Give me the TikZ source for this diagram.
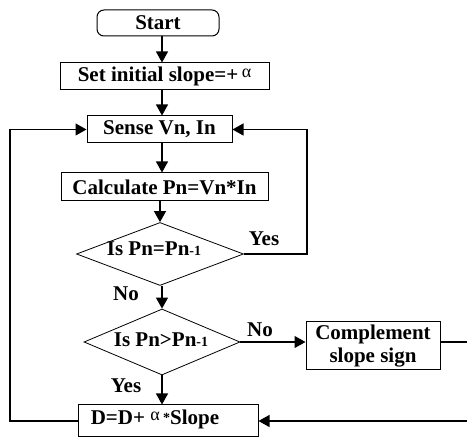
\documentclass[tikz,border=0pt]{standalone}
\usepackage{fontspec}
\setmainfont{Liberation Serif}
\usetikzlibrary{arrows.meta,shapes.geometric}
\newcommand{\smalla}{\raisebox{4pt}{\fontsize{18}{18}\selectfont\mdseries α}}
\newcommand{\sml}[1]{{\fontsize{14}{14}\selectfont #1}}
\begin{document}
\begin{tikzpicture}[x=1pt,y=-1pt,
  every node/.style={font=\fontsize{21}{23}\selectfont\bfseries, inner sep=0pt},
  box/.style={draw, line width=1pt, rectangle},
  dia/.style={draw, line width=0.8pt, diamond, inner sep=0pt},
  lbl/.style={},
  arr/.style={line width=1.1pt, -{Triangle[width=12pt,length=11pt]}}]
\useasboundingbox (0,0) rectangle (467,438);
\clip (0,0) rectangle (467,438);
% nodes
\node[box, rounded corners=7pt, minimum width=122pt, minimum height=26pt] (start) at (158,23) {Start};
\node[box, minimum width=209pt, minimum height=27pt] (set) at (164.5,76.5) {Set initial slope=+\,\smalla};
\node[box, minimum width=145pt, minimum height=27pt] (sense) at (159.5,129.5) {Sense Vn, In};
\node[box, minimum width=207pt, minimum height=28pt] (calc) at (164.5,187) {Calculate Pn=Vn*In};
\node[dia, minimum width=167pt, minimum height=63pt] (d1) at (160,254) {};
\node (d1t) at (154,249) {Is Pn=Pn\sml{-1}};
\node[dia, minimum width=156pt, minimum height=66pt] (d2) at (162,342) {};
\node (d2t) at (161,340) {Is Pn>Pn\sml{-1}};
\node[box, minimum width=134pt, minimum height=48pt, align=center] (comp) at (373,346) {Complement\\slope sign};
\node[box, minimum width=180pt, minimum height=32pt] (dd) at (168,421) {};
\node (ddt) at (155,419) {D=D+ \smalla\,\raisebox{2pt}{\sml{*}}Slope};
% labels
\node[lbl] (yes1) at (264,239) {Yes};
\node[lbl] (no1) at (126,294) {No};
\node[lbl] (no2) at (260,330) {No};
\node[lbl] (yes2) at (126,386) {Yes};
% helper coordinates
\coordinate (r1) at (307,254);
\coordinate (r2) at (307,129.5);
\coordinate (l1) at (10,421);
\coordinate (l2) at (10,129.5);
\coordinate (c0) at (comp.east |- d2.east);
\coordinate (c1) at (472,342);
\coordinate (c2) at (472,421);
% connectors
\draw[arr] (start.south -| 162,0) -- (set.north -| 162,0);
\draw[arr] (set.south -| 162,0) -- (sense.north -| 162,0);
\draw[arr] (sense.south -| 162,0) -- (calc.north -| 162,0);
\draw[arr] (calc.south -| 160,0) -- (d1.north);
\draw[arr] (d1.south -| 162,0) -- (d2.north);
\draw[arr] (d2.south) -- (dd.north -| 162,0);
\draw[arr] (d2.east) -- (d2.east -| comp.west);
\draw[arr] (d1.east) -- (r1) -- (r2) -- (sense.east);
\draw[arr] (dd.west) -- (l1) -- (l2) -- (sense.west);
\draw[arr] (c0) -- (c1) -- (c2) -- (dd.east);
\end{tikzpicture}
\end{document}
